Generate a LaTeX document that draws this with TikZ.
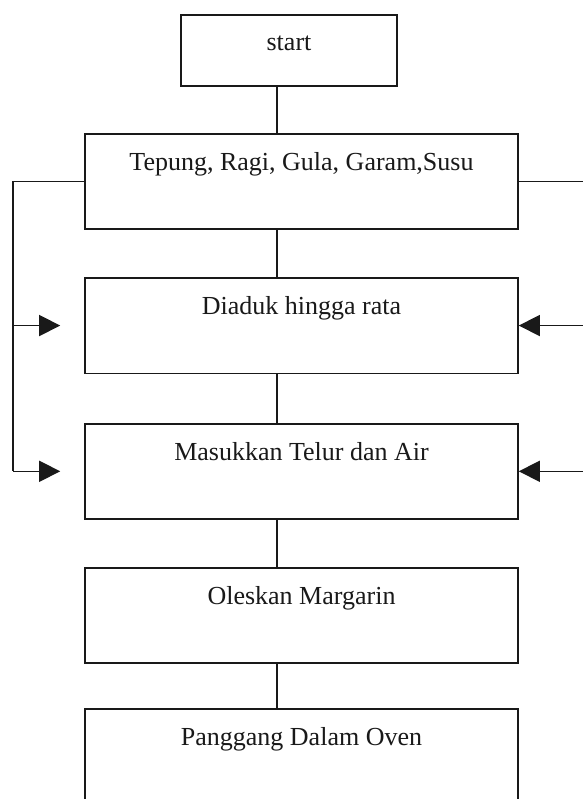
\documentclass[tikz,border=0pt]{standalone}
\usepackage{fontspec}
\setmainfont{Liberation Serif}
\usetikzlibrary{arrows.meta}
\begin{document}
\begin{tikzpicture}[x=1pt,y=-1pt,
  line width=1.6pt, draw=black!90,
  boxnode/.style={draw, rectangle, inner xsep=0pt, inner ysep=0pt,
    font=\fontsize{26}{30}\selectfont, text=black!90, anchor=north,
    text height=36.5pt, minimum width=433pt, align=center},
  tallbox/.style={boxnode, text depth=59pt},
  arr/.style={-{Triangle[length=21pt,width=21pt]}}]
\useasboundingbox (0,0) rectangle (582,799);
\fill[white] (0,0) rectangle (582,799);
\node[boxnode, minimum width=216pt, text height=36pt, text depth=35pt] (start) at (289,14) {start};
\node[tallbox] (tepung) at (301.5,133) {Tepung, Ragi, Gula, Garam,Susu};
\node[tallbox] (diaduk) at (301.5,277) {Diaduk hingga rata};
\node[tallbox, text depth=58.5pt] (masuk) at (301.5,423) {Masukkan Telur dan Air};
\node[tallbox, text depth=58.5pt] (oles) at (301.5,567) {Oleskan Margarin};
\node[tallbox] (panggang) at (301.5,708) {Panggang Dalam Oven};
\coordinate (cx) at (277,0);
\coordinate (lb) at (13,0);
\coordinate (rb) at (590,0);
\draw (cx |- start.south) -- (cx |- tepung.north);
\draw (cx |- tepung.south) -- (cx |- diaduk.north);
\draw (cx |- diaduk.south) -- (cx |- masuk.north);
\draw (cx |- masuk.south) -- (cx |- oles.north);
\draw (cx |- oles.south) -- (cx |- panggang.north);
\draw (tepung.west) -| (lb |- masuk.west);
\draw[arr, shorten >=24pt] (lb |- diaduk.west) -- (diaduk.west);
\draw[arr, shorten >=24pt] (lb |- masuk.west) -- (masuk.west);
\draw (tepung.east) -| (rb |- masuk.east);
\draw[arr] (rb |- diaduk.east) -- (diaduk.east);
\draw[arr] (rb |- masuk.east) -- (masuk.east);
\end{tikzpicture}
\end{document}
